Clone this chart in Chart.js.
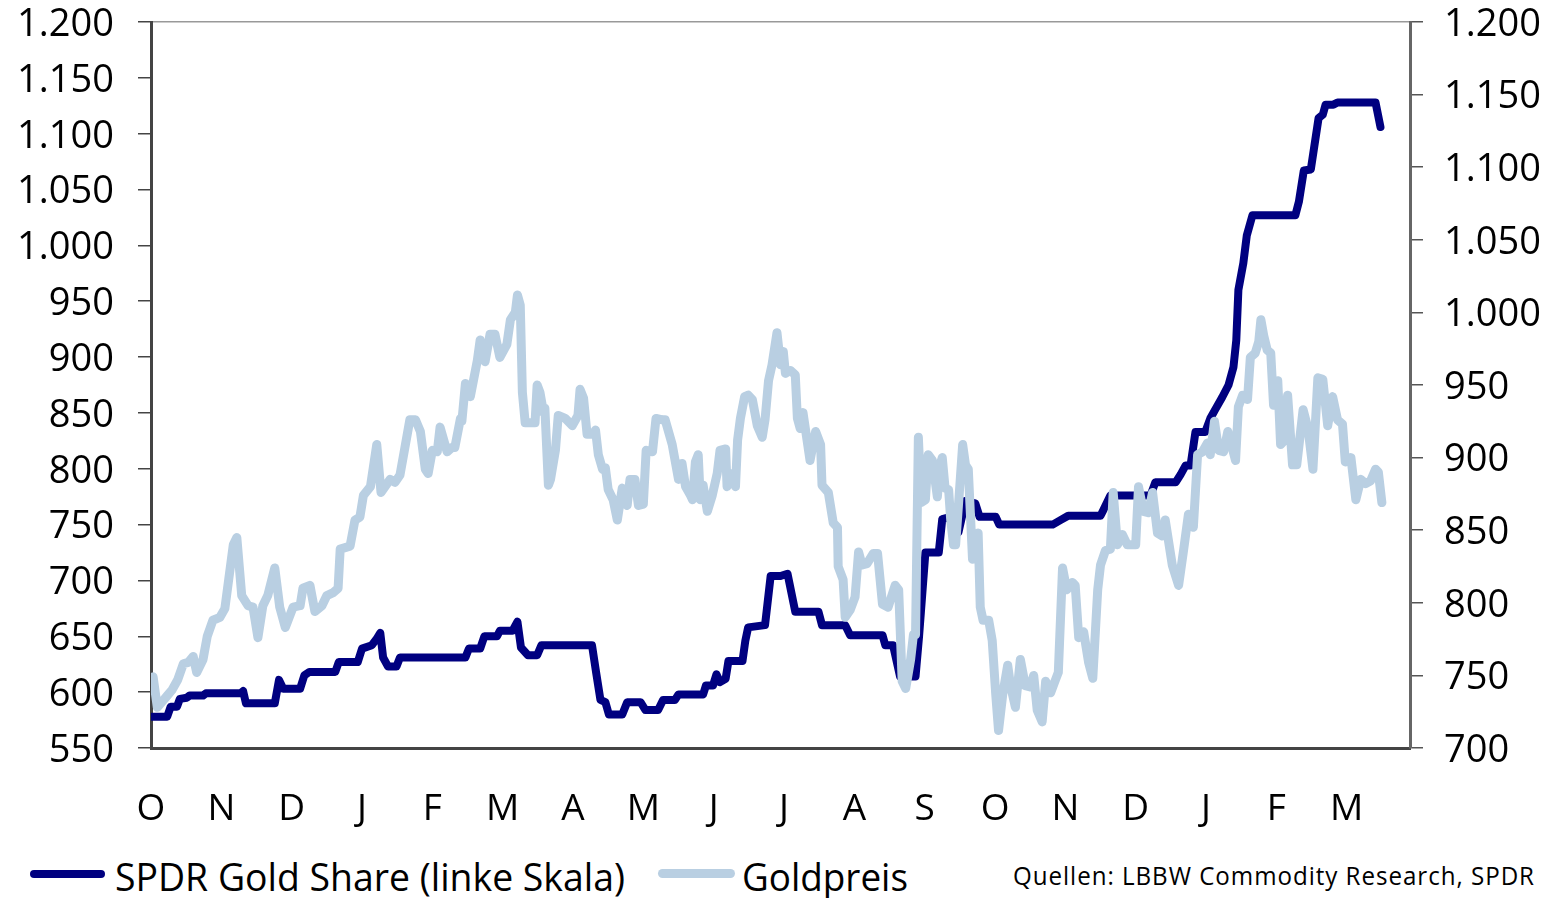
<!DOCTYPE html>
<html lang="de">
<head>
<meta charset="utf-8">
<title>SPDR Gold Share und Goldpreis</title>
<script src="https://cdn.jsdelivr.net/npm/chart.js@4.4.1/dist/chart.umd.min.js"></script>
<style>
    html, body { margin: 0; padding: 0; background: #fff; }
    body { width: 1554px; height: 898px; position: relative; overflow: hidden; font-family: 'Open Sans', sans-serif; }
    #wrap { position: absolute; left: 0; top: 0; width: 1554px; height: 840px; }
    .key { position: absolute; border-radius: 5px; }
    .txt { position: absolute; white-space: nowrap; line-height: 1; transform-origin: 0 50%; color: #000; }
</style>
</head>
<body>
<div id="wrap"><canvas id="goldChart"></canvas></div>

<div class="key" style="left:30px; top:870px; width:75px; height:8px; background:#000080;"></div>
<div class="txt fit" data-w="510" style="left:115px; top:857px; font-size:38px;">SPDR Gold Share (linke Skala)</div>
<div class="key" style="left:658px; top:869px; width:77px; height:9px; background:#b9cfe2;"></div>
<div class="txt fit" data-w="166" style="left:742px; top:857px; font-size:38px;">Goldpreis</div>
<div class="txt fit" data-w="522" style="left:1013px; top:863px; font-size:25px; letter-spacing:1px;">Quellen: LBBW Commodity Research, SPDR</div>

<script>
// Monatsbuchstaben (Okt 2007 - Mär 2009)
const monthLabels = ['O', 'N', 'D', 'J', 'F', 'M', 'A', 'M', 'J', 'J', 'A', 'S', 'O', 'N', 'D', 'J', 'F', 'M'];

// SPDR Gold Share, Bestand in Tonnen (linke Skala) - [Monat seit Okt 2007, Wert]
const spdrPoints = [
    [0.01, 578], [0.23, 578], [0.28, 587], [0.37, 587], [0.41, 594], [0.51, 595], [0.55, 597], [0.74, 597],
    [0.78, 599], [1.27, 599], [1.31, 601], [1.35, 590], [1.76, 590], [1.82, 611], [1.88, 603], [2.12, 603],
    [2.18, 615], [2.25, 618], [2.62, 618], [2.67, 627], [2.94, 627], [3.00, 639], [3.14, 642], [3.21, 648],
    [3.26, 653], [3.30, 631], [3.37, 623], [3.49, 623], [3.54, 631], [4.47, 631], [4.52, 639], [4.68, 639],
    [4.74, 650], [4.92, 650], [4.96, 655], [5.14, 655], [5.21, 663], [5.26, 640], [5.36, 633], [5.49, 633],
    [5.55, 642], [6.27, 642], [6.33, 617], [6.39, 593], [6.46, 591], [6.51, 580], [6.70, 580], [6.77, 591],
    [6.96, 591], [7.03, 584], [7.21, 584], [7.28, 593], [7.45, 593], [7.50, 598], [7.85, 598], [7.89, 606],
    [7.99, 606], [8.04, 616], [8.09, 609], [8.17, 612], [8.21, 628], [8.41, 628], [8.45, 646], [8.49, 658],
    [8.73, 660], [8.81, 704], [8.95, 704], [9.05, 706], [9.16, 672], [9.49, 672], [9.54, 660], [9.87, 660],
    [9.94, 651], [10.40, 651], [10.44, 642], [10.55, 642], [10.65, 614], [10.87, 614], [10.92, 650], [11.01, 725],
    [11.20, 725], [11.25, 755], [11.37, 757], [11.48, 743], [11.58, 771], [11.72, 769], [11.78, 757], [12.01, 757],
    [12.06, 750], [12.82, 750], [12.93, 754], [13.04, 758], [13.50, 758], [13.54, 763], [13.64, 776], [14.21, 776],
    [14.28, 788], [14.57, 788], [14.64, 795], [14.71, 803], [14.78, 803], [14.85, 833], [14.99, 833], [15.06, 845],
    [15.13, 853], [15.23, 864], [15.32, 875], [15.39, 891], [15.43, 915], [15.46, 960], [15.53, 984], [15.58, 1009],
    [15.66, 1027], [16.27, 1027], [16.32, 1039], [16.39, 1067], [16.49, 1068], [16.60, 1114], [16.66, 1117], [16.70, 1126],
    [16.81, 1126], [16.87, 1128], [17.41, 1128], [17.48, 1106],
];

// Goldpreis in USD/oz (rechte Skala)
const goldPoints = [
    [0.03, 749], [0.09, 728], [0.16, 732], [0.23, 736], [0.30, 740], [0.38, 747], [0.46, 758], [0.53, 759],
    [0.60, 763], [0.65, 752], [0.74, 761], [0.80, 777], [0.88, 788], [0.98, 790], [1.05, 796], [1.17, 840],
    [1.22, 845], [1.29, 805], [1.38, 798], [1.45, 797], [1.52, 776], [1.59, 798], [1.66, 805], [1.76, 824],
    [1.83, 797], [1.91, 783], [2.02, 797], [2.12, 798], [2.16, 810], [2.26, 812], [2.33, 794], [2.43, 798],
    [2.50, 805], [2.59, 807], [2.66, 810], [2.69, 837], [2.76, 838], [2.83, 839], [2.90, 857], [2.97, 859],
    [3.02, 874], [3.12, 880], [3.21, 909], [3.27, 876], [3.40, 885], [3.47, 883], [3.54, 888], [3.61, 907],
    [3.68, 926], [3.76, 926], [3.83, 918], [3.90, 892], [3.94, 889], [4.00, 905], [4.07, 904], [4.11, 921],
    [4.18, 909], [4.21, 904], [4.28, 907], [4.32, 907], [4.40, 927], [4.42, 925], [4.47, 951], [4.54, 942],
    [4.64, 967], [4.68, 981], [4.75, 966], [4.82, 985], [4.89, 985], [4.96, 969], [5.06, 978], [5.11, 995],
    [5.18, 1000], [5.21, 1012], [5.25, 1005], [5.28, 945], [5.32, 924], [5.46, 924], [5.49, 950], [5.53, 945],
    [5.58, 931], [5.60, 934], [5.65, 881], [5.68, 885], [5.75, 905], [5.79, 929], [5.89, 927], [5.99, 922],
    [6.07, 929], [6.10, 947], [6.15, 941], [6.20, 916], [6.29, 916], [6.32, 919], [6.36, 902], [6.42, 892],
    [6.46, 893], [6.50, 878], [6.57, 871], [6.63, 857], [6.70, 879], [6.77, 867], [6.81, 885], [6.88, 885],
    [6.93, 867], [7.00, 868], [7.04, 905], [7.13, 904], [7.18, 927], [7.27, 926], [7.31, 926], [7.41, 909],
    [7.50, 885], [7.55, 896], [7.60, 880], [7.67, 874], [7.70, 871], [7.74, 897], [7.78, 902], [7.81, 871],
    [7.85, 881], [7.91, 863], [7.98, 874], [8.05, 889], [8.09, 905], [8.17, 906], [8.19, 880], [8.26, 889],
    [8.31, 880], [8.34, 912], [8.38, 927], [8.44, 942], [8.49, 943], [8.55, 940], [8.62, 922], [8.69, 914],
    [8.73, 926], [8.78, 953], [8.83, 964], [8.90, 986], [8.95, 964], [8.99, 973], [9.02, 958], [9.09, 960],
    [9.16, 957], [9.19, 927], [9.23, 920], [9.27, 931], [9.37, 898], [9.45, 918], [9.52, 909], [9.54, 881],
    [9.63, 876], [9.70, 855], [9.76, 852], [9.77, 825], [9.84, 816], [9.87, 790], [9.94, 795], [10.01, 804],
    [10.06, 835], [10.11, 826], [10.18, 827], [10.27, 834], [10.33, 834], [10.40, 799], [10.48, 797], [10.58, 812],
    [10.63, 809], [10.68, 746], [10.73, 741], [10.80, 761], [10.84, 778], [10.87, 778], [10.91, 914], [10.95, 869],
    [11.01, 871], [11.05, 902], [11.11, 898], [11.18, 873], [11.22, 895], [11.25, 900], [11.29, 879], [11.34, 878],
    [11.37, 857], [11.41, 840], [11.44, 840], [11.48, 867], [11.54, 909], [11.58, 895], [11.62, 892], [11.68, 830],
    [11.72, 838], [11.76, 848], [11.79, 797], [11.83, 788], [11.91, 788], [11.96, 774], [12.01, 737], [12.05, 712],
    [12.11, 737], [12.18, 757], [12.22, 743], [12.29, 728], [12.36, 761], [12.43, 743], [12.50, 742], [12.55, 750],
    [12.60, 726], [12.67, 718], [12.72, 746], [12.79, 738], [12.86, 747], [12.90, 752], [12.96, 824], [13.02, 809],
    [13.10, 814], [13.14, 812], [13.19, 776], [13.26, 780], [13.33, 759], [13.39, 748], [13.46, 809], [13.50, 826],
    [13.57, 836], [13.64, 837], [13.68, 876], [13.74, 840], [13.81, 847], [13.88, 840], [14.00, 840], [14.04, 880],
    [14.11, 863], [14.18, 862], [14.24, 876], [14.31, 848], [14.38, 846], [14.42, 857], [14.52, 826], [14.61, 812],
    [14.68, 836], [14.75, 861], [14.82, 852], [14.88, 902], [14.95, 904], [15.02, 910], [15.06, 902], [15.12, 925],
    [15.18, 905], [15.25, 904], [15.31, 918], [15.42, 898], [15.46, 935], [15.52, 943], [15.59, 940], [15.63, 969],
    [15.70, 972], [15.75, 980], [15.78, 995], [15.82, 984], [15.87, 974], [15.92, 972], [15.96, 936], [16.02, 953],
    [16.06, 909], [16.10, 911], [16.16, 943], [16.23, 895], [16.29, 895], [16.38, 933], [16.45, 920], [16.52, 892],
    [16.59, 955], [16.66, 954], [16.73, 922], [16.80, 942], [16.87, 926], [16.94, 923], [16.98, 897], [17.06, 900],
    [17.13, 871], [17.20, 885], [17.27, 882], [17.34, 884], [17.41, 892], [17.45, 890], [17.50, 869],
];

const toXY = (pts) => pts.map(([m, v]) => ({ x: m, y: v }));

// Tausenderpunkt wie im Original: 1.200
const fmt = (v) => v >= 1000
    ? Math.floor(v / 1000) + '.' + String(v % 1000).padStart(3, '0')
    : String(v);

const fontFamily = "'Open Sans', sans-serif";
const yTickFont = { family: fontFamily, size: 38, lineHeight: 1 };

// feste Achsenbreiten, ohne Zusatzabstand für die Randbeschriftungen
const fixWidth = (w) => (s) => {
    s.width = w;
    s.paddingTop = 0;
    s.paddingBottom = 0;
};
const fixHeight = (h) => (s) => {
    s.height = h;
    s.paddingLeft = 0;
    s.paddingRight = 0;
};

new Chart(document.getElementById('goldChart'), {
    type: 'line',
    data: {
        datasets: [
            {
                label: 'SPDR Gold Share (linke Skala)',
                data: toXY(spdrPoints),
                xAxisID: 'x',
                yAxisID: 'y',
                borderColor: '#000080',
                borderWidth: 8,
                order: 1,
            },
            {
                label: 'Goldpreis',
                data: toXY(goldPoints),
                xAxisID: 'x',
                yAxisID: 'y2',
                borderColor: '#b9cfe2',
                borderWidth: 9,
                order: 0,
            },
        ],
    },
    options: {
        responsive: true,
        maintainAspectRatio: false,
        animation: false,
        layout: { padding: 0 },
        elements: {
            point: { radius: 0 },
            line: { tension: 0, borderJoinStyle: 'round', borderCapStyle: 'round' },
        },
        plugins: {
            legend: { display: false },
            tooltip: { enabled: false },
        },
        scales: {
            x: {
                type: 'linear',
                position: 'bottom',
                min: 0,
                max: 17.9,
                grid: { display: false, drawTicks: false },
                border: { color: '#444', width: 3 },
                ticks: {
                    stepSize: 1,
                    includeBounds: false,
                    autoSkip: false,
                    maxRotation: 0,
                    padding: 39,
                    color: '#000',
                    font: { family: fontFamily, size: 37 },
                    callback: (v) => {
                        const i = Math.round(v);
                        return Math.abs(v - i) < 1e-6 && monthLabels[i] ? monthLabels[i] : '';
                    },
                },
                afterFit: fixHeight(92),
            },
            xTop: {
                type: 'linear',
                position: 'top',
                min: 0,
                max: 17.9,
                grid: { display: false, drawTicks: false },
                ticks: { display: false },
                border: { color: '#999', width: 1.5 },
                afterFit: fixHeight(22),
            },
            y: {
                position: 'left',
                min: 550,
                max: 1200,
                ticks: { stepSize: 50, padding: 24, labelOffset: 3, color: '#000', font: yTickFont, callback: fmt },
                grid: { drawOnChartArea: false, tickLength: 13, color: '#444', lineWidth: 1.5 },
                border: { color: '#444', width: 3 },
                afterFit: fixWidth(151),
            },
            y2: {
                position: 'right',
                min: 700,
                max: 1200,
                ticks: { stepSize: 50, padding: 21, labelOffset: 3, color: '#000', font: yTickFont, callback: fmt },
                grid: { drawOnChartArea: false, tickLength: 13, color: '#555', lineWidth: 1.5 },
                border: { color: '#666', width: 3 },
                afterFit: fixWidth(144),
            },
        },
    },
});

// Legendentexte auf die Breite im Original stauchen
document.querySelectorAll('.fit').forEach((el) => {
    const w = el.getBoundingClientRect().width;
    el.style.transform = `scaleX(${el.dataset.w / w})`;
});
</script>
</body>
</html>
